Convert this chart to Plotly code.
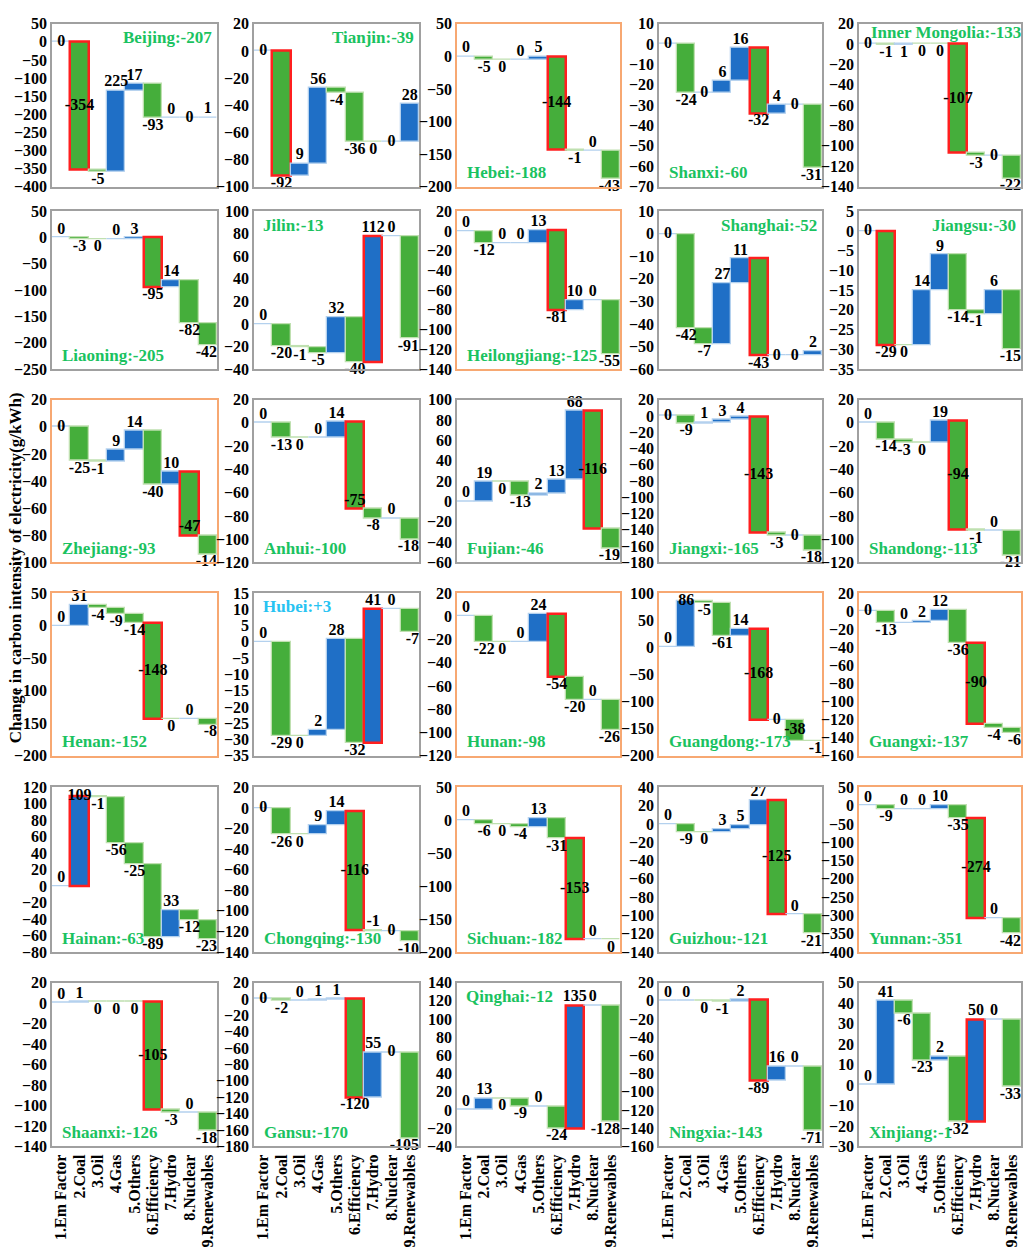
import plotly.graph_objects as go

# ---- data -------------------------------------------------------------
CATEGORIES = ["1.Em Factor", "2.Coal", "3.Oil", "4.Gas", "5.Others",
              "6.Efficiency", "7.Hydro", "8.Nuclear", "9.Renewables"]

PROVINCES = ["Beijing", "Tianjin", "Hebei", "Shanxi", "Inner Mongolia",
             "Liaoning", "Jilin", "Heilongjiang", "Shanghai", "Jiangsu",
             "Zhejiang", "Anhui", "Fujian", "Jiangxi", "Shandong",
             "Henan", "Hubei", "Hunan", "Guangdong", "Guangxi",
             "Hainan", "Chongqing", "Sichuan", "Guizhou", "Yunnan",
             "Shaanxi", "Gansu", "Qinghai", "Ningxia", "Xinjiang"]

TOTALS = [-207, -39, -188, -60, -133,
          -205, -13, -125, -52, -30,
          -93, -100, -46, -165, -113,
          -152, 3, -98, -173, -137,
          -63, -130, -182, -121, -351,
          -126, -170, -12, -143, -1]

BEIJING = [0, -354, -5, 225, 17, -93, 0, 0, 1]
TIANJIN = [0, -92, 9, 56, -4, -36, 0, 0, 28]
HEBEI = [0, -5, 0, 0, 5, -144, -1, 0, -43]
SHANXI = [0, -24, 0, 6, 16, -32, 4, 0, -31]
INNER_MONGOLIA = [0, -1, 1, 0, 0, -107, -3, 0, -22]
LIAONING = [0, -3, 0, 0, 3, -95, 14, -82, -42]
JILIN = [0, -20, -1, -5, 32, -40, 112, 0, -91]
HEILONGJIANG = [0, -12, 0, 0, 13, -81, 10, 0, -55]
SHANGHAI = [0, -42, -7, 27, 11, -43, 0, 0, 2]
JIANGSU = [0, -29, 0, 14, 9, -14, -1, 6, -15]
ZHEJIANG = [0, -25, -1, 9, 14, -40, 10, -47, -14]
ANHUI = [0, -13, 0, 0, 14, -75, -8, 0, -18]
FUJIAN = [0, 19, 0, -13, 2, 13, 68, -116, -19]
JIANGXI = [0, -9, 1, 3, 4, -143, -3, 0, -18]
SHANDONG = [0, -14, -3, 0, 19, -94, -1, 0, -21]
HENAN = [0, 31, -4, -9, -14, -148, 0, 0, -8]
HUBEI = [0, -29, 0, 2, 28, -32, 41, 0, -7]
HUNAN = [0, -22, 0, 0, 24, -54, -20, 0, -26]
GUANGDONG = [0, 86, -5, -61, 14, -168, 0, -38, -1]
GUANGXI = [0, -13, 0, 2, 12, -36, -90, -4, -6]
HAINAN = [0, 109, -1, -56, -25, -89, 33, -12, -23]
CHONGQING = [0, -26, 0, 9, 14, -116, -1, 0, -10]
SICHUAN = [0, -6, 0, -4, 13, -31, -153, 0, 0]
GUIZHOU = [0, -9, 0, 3, 5, 27, -125, 0, -21]
YUNNAN = [0, -9, 0, 0, 10, -35, -274, 0, -42]
SHAANXI = [0, 1, 0, 0, 0, -105, -3, 0, -18]
GANSU = [0, -2, 0, 1, 1, -120, 55, 0, -105]
QINGHAI = [0, 13, 0, -9, 0, -24, 135, 0, -128]
NINGXIA = [0, 0, 0, -1, 2, -89, 16, 0, -71]
XINJIANG = [0, 41, -6, -23, 2, -32, 50, 0, -33]

SERIES = [BEIJING, TIANJIN, HEBEI, SHANXI, INNER_MONGOLIA,
          LIAONING, JILIN, HEILONGJIANG, SHANGHAI, JIANGSU,
          ZHEJIANG, ANHUI, FUJIAN, JIANGXI, SHANDONG,
          HENAN, HUBEI, HUNAN, GUANGDONG, GUANGXI,
          HAINAN, CHONGQING, SICHUAN, GUIZHOU, YUNNAN,
          SHAANXI, GANSU, QINGHAI, NINGXIA, XINJIANG]

# ---- per-panel axis settings (range low, range high, tick step) --------
Y_AXES = [(-400, 50, 50), (-100, 20, 20), (-200, 50, 50), (-70, 10, 10), (-140, 20, 20),
          (-250, 50, 50), (-40, 100, 20), (-140, 20, 20), (-60, 10, 10), (-35, 5, 5),
          (-100, 20, 20), (-120, 20, 20), (-60, 100, 20), (-180, 20, 20), (-120, 20, 20),
          (-200, 50, 50), (-35, 15, 5), (-120, 20, 20), (-200, 100, 50), (-160, 20, 20),
          (-80, 120, 20), (-140, 20, 20), (-200, 50, 50), (-140, 40, 20), (-400, 50, 50),
          (-140, 20, 20), (-180, 20, 20), (-40, 140, 20), (-160, 20, 20), (-30, 50, 10)]

# panels framed in orange
ORANGE_FRAME = {"Hebei", "Heilongjiang", "Zhejiang", "Henan", "Hunan",
                "Guangdong", "Guangxi", "Sichuan", "Yunnan"}

# where the province caption sits inside its panel
CAPTION_POS = {"Beijing": "tr", "Tianjin": "tr", "Inner Mongolia": "tc",
               "Jilin": "tl", "Shanghai": "tr", "Jiangsu": "tr",
               "Hubei": "tl", "Qinghai": "tl"}

# label placement overrides: bar index -> mode
#   mid   : centred in the bar        inend : just inside the lower end
#   edge  : centred on the bar's end  line  : centred on a flat bar
#   below : under the bar's level     above : over the bar's level
LABEL_MODE = {
    "Beijing": {0: "line", 1: "mid", 7: "line"},
    "Tianjin": {0: "line", 6: "below", 7: "line"},
    "Hebei": {2: "below", 5: "mid"},
    "Shanxi": {0: "line", 2: "line", 7: "line"},
    "Inner Mongolia": {0: "line", 2: "below", 3: "below", 4: "below", 5: "mid", 7: "line"},
    "Liaoning": {2: "below"},
    "Shanghai": {0: "line", 6: "line", 7: "line"},
    "Jiangsu": {0: "line", 2: "below"},
    "Zhejiang": {0: "line", 7: "inend"},
    "Anhui": {2: "below", 5: "inend"},
    "Fujian": {2: "below", 7: "mid"},
    "Jiangxi": {0: "line", 5: "mid", 7: "line"},
    "Shandong": {3: "below", 5: "mid"},
    "Henan": {5: "mid", 6: "below"},
    "Hubei": {2: "below"},
    "Hunan": {2: "below"},
    "Guangdong": {1: "edge", 5: "mid", 6: "line", 7: "mid"},
    "Guangxi": {0: "line", 6: "mid"},
    "Hainan": {1: "edge"},
    "Chongqing": {0: "line", 2: "below", 5: "mid", 6: "above", 7: "line"},
    "Sichuan": {2: "below", 6: "mid", 8: "below"},
    "Guizhou": {2: "below", 6: "mid"},
    "Yunnan": {6: "mid"},
    "Shaanxi": {2: "below", 3: "below", 4: "below", 5: "mid"},
    "Gansu": {0: "line", 7: "line"},
    "Qinghai": {2: "below"},
    "Ningxia": {2: "below"},
}

# ---- styling -----------------------------------------------------------
FONT = "Times New Roman, Liberation Serif, serif"
W, H = 1035, 1257
COL_X = [(52, 217), (254, 419), (457, 620), (659, 822), (859, 1021)]
ROW_Y = [(16, 181), (206, 366), (397, 562), (593, 758), (790, 957), (988, 1154)]

BLUE = "#1f6fc6"
GREEN = "#45ae3b"
BLUE_EDGE = "#b4d1ee"
GREEN_EDGE = "#bfe0b0"
RED = "#ff1f1f"
GREEN_TXT = "#1ac260"
CYAN_TXT = "#27c3f2"
GRAY_FRAME = "#a0a0a0"
ORANGE_LINE = "#f7a872"

fig = go.Figure()
annotations = []
layout_axes = {}

for i, (name, vals) in enumerate(zip(PROVINCES, SERIES)):
    r, c = divmod(i, 5)
    n = i + 1
    xa = "x" if n == 1 else f"x{n}"
    ya = "y" if n == 1 else f"y{n}"
    xkey = "xaxis" if n == 1 else f"xaxis{n}"
    ykey = "yaxis" if n == 1 else f"yaxis{n}"
    modes = LABEL_MODE.get(name, {})
    last = len(vals) - 1

    # running totals for the waterfall
    bases, ends = [], []
    run = 0
    for v in vals:
        bases.append(run)
        run += v
        ends.append(run)

    big = max(range(len(vals)), key=lambda k: abs(vals[k]))

    fills = [BLUE if v >= 0 else GREEN for v in vals]
    edge_c = []
    for k, v in enumerate(vals):
        if v < 0 or (v == 0 and modes.get(k) == "below"):
            edge_c.append(GREEN_EDGE)
        else:
            edge_c.append(BLUE_EDGE)
    edge_w = [1.3] * len(vals)
    edge_c[big] = RED
    edge_w[big] = 2.5

    xs = list(range(len(vals)))
    fig.add_trace(go.Bar(
        x=xs, y=vals, base=bases, width=1.0,
        marker=dict(color=fills, line=dict(color=edge_c, width=edge_w)),
        xaxis=xa, yaxis=ya, showlegend=False, hoverinfo="skip"))

    # value labels
    lx, ly, lpos = [], [], []
    for k, v in enumerate(vals):
        mode = modes.get(k)
        x_here, side = k, "center"
        if k == last and v < 0 and mode is None:
            # keep the final label inside the panel: align to the bar's right edge
            x_here, side = k + 0.5, "left"
        if mode == "mid":
            y_here, vert = bases[k] + v / 2, "middle"
        elif mode == "inend":
            y_here, vert = ends[k], "top"
        elif mode in ("edge", "line"):
            y_here, vert = ends[k], "middle"
        elif mode == "below":
            y_here, vert = min(bases[k], ends[k]), "bottom"
        elif mode == "above":
            y_here, vert = max(bases[k], ends[k]), "top"
        elif v < 0:
            y_here, vert = ends[k], "bottom"
        else:
            y_here, vert = ends[k], "top"
        lx.append(x_here)
        ly.append(y_here)
        lpos.append(f"{vert} {side}")
    fig.add_trace(go.Scatter(
        x=lx, y=ly, mode="text", text=[str(v) for v in vals],
        textposition=lpos, cliponaxis=False,
        textfont=dict(family=FONT, size=16, color="black", weight="bold"),
        xaxis=xa, yaxis=ya, showlegend=False, hoverinfo="skip"))

    x0, x1 = COL_X[c]
    y0, y1 = ROW_Y[r]
    frame = ORANGE_LINE if name in ORANGE_FRAME else GRAY_FRAME
    lo, hi, step = Y_AXES[i]
    bottom_row = r == 5

    layout_axes[xkey] = dict(
        domain=[x0 / W, x1 / W], anchor=ya, range=[-0.5, 8.5],
        showgrid=False, zeroline=False, showline=True, mirror=True,
        linecolor=frame, linewidth=1.6,
        tickmode="array", tickvals=xs,
        ticktext=CATEGORIES if bottom_row else [""] * 9,
        showticklabels=bottom_row, tickangle=-90, ticks="",
        tickfont=dict(family=FONT, size=16, color="black", weight="bold"))
    layout_axes[ykey] = dict(
        domain=[1 - y1 / H, 1 - y0 / H], anchor=xa, range=[lo, hi],
        tickmode="linear", tick0=lo, dtick=step,
        showgrid=False, zeroline=False, showline=True, mirror=True,
        linecolor=frame, linewidth=1.6, ticks="", ticklen=0,
        tickfont=dict(family=FONT, size=16, color="black", weight="bold"))

    # province caption
    total = TOTALS[i]
    cap = f"{name}:{'+' if total > 0 else ''}{total}"
    pos = CAPTION_POS.get(name, "bl")
    if pos == "tr":
        ax, ay, xanc, yanc = 0.98, 0.985, "right", "top"
    elif pos == "tl":
        ax, ay, xanc, yanc = 0.04, 0.985, "left", "top"
    elif pos == "tc":
        ax, ay, xanc, yanc = 0.06, 1.015, "left", "top"
    else:
        ax, ay, xanc, yanc = 0.05, 0.015, "left", "bottom"
    annotations.append(dict(
        text=cap, xref=f"{xa} domain", yref=f"{ya} domain",
        x=ax, y=ay, xanchor=xanc, yanchor=yanc, showarrow=False,
        font=dict(family=FONT, size=17, color=CYAN_TXT if total > 0 else GREEN_TXT,
                  weight="bold")))

annotations.append(dict(
    text="Change in carbon intensity of electricity(g/kWh)",
    xref="paper", yref="paper", x=15 / W, y=1 - 568 / H,
    xanchor="center", yanchor="middle", textangle=-90, showarrow=False,
    font=dict(family=FONT, size=17, color="black", weight="bold")))

fig.update_layout(
    width=W, height=H, margin=dict(l=0, r=0, t=0, b=0),
    paper_bgcolor="white", plot_bgcolor="white",
    bargap=0, barmode="overlay", showlegend=False,
    annotations=annotations, **layout_axes)

fig.write_html("out.html")
